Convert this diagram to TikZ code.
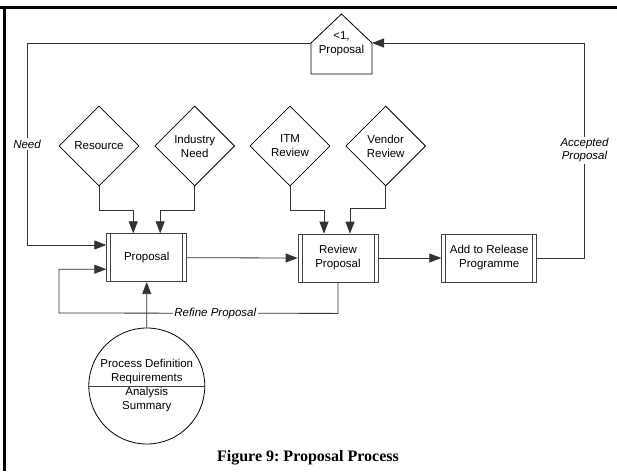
\documentclass[tikz,border=0pt]{standalone}
\usepackage{fontspec}
\setmainfont{Liberation Sans}
\newfontfamily\capfont{Liberation Serif}
\usetikzlibrary{arrows.meta,shapes.geometric}
\tikzset{
  lbl/.style={fill=white,inner sep=1.5pt,align=center,font=\fontsize{11.5}{13}\selectfont\itshape},
  wire/.style={draw=black!80,line width=0.8pt}
}
\begin{document}
\begin{tikzpicture}[x=1pt,y=-1pt,>={Triangle[length=12pt,width=9pt]},
    font=\fontsize{11.5}{14}\selectfont]
  \useasboundingbox (0,0) rectangle (617,471);
  % frame
  \draw[line width=2.7pt] (0,7.5) -- (617,7.5);
  \draw[line width=2.7pt] (4.7,7.5) -- (4.7,471);

  \begin{scope}[every node/.style={rectangle,draw=black!75,line width=0.8pt,
      minimum width=80pt,minimum height=48pt,align=center,
      path picture={\draw[black!75,line width=0.8pt]
        ([xshift=4pt]path picture bounding box.north west) -- ([xshift=4pt]path picture bounding box.south west)
        ([xshift=-4pt]path picture bounding box.north east) -- ([xshift=-4pt]path picture bounding box.south east);}}]
    \node (Prop) at (146.7,257.7) {Proposal};
    \node (Rev) at (338,258) {Review\\Proposal};
    \node[minimum width=95pt] (Rel) at (489.2,258) {Add to Release\\Programme};
  \end{scope}

  \begin{scope}[every node/.style={diamond,draw,line width=0.8pt,aspect=1,
      minimum size=80pt,inner sep=0pt,align=center}]
    \node (Res) at (99,146) {Resource};
    \node (Ind) at (194.7,146) {Industry\\Need};
    \node (ITM) at (290,146) {ITM\\Review};
    \node (Ven) at (385.7,146) {Vendor\\Review};
  \end{scope}

  \node[circle,draw,line width=0.8pt,minimum size=116pt,inner sep=0pt,align=center,
    path picture={\draw[black!75,line width=0.8pt] (path picture bounding box.west) -- (path picture bounding box.east);}]
    (Def) at (146.8,386) {Process Definition\\Requirements\\Analysis\\Summary};

  % gate
  \coordinate (GateL) at (311,43);
  \coordinate (GateR) at (372,43);
  \draw[line width=0.8pt] (GateL) -- (341.5,14) -- (GateR) -- (372,74) -- (311,74) -- cycle;
  \node[align=center] (Gate) at (341.5,44) {<1,\\Proposal};

  \begin{scope}[every path/.style={wire}]
    \draw[->] (GateL) -- (27,43) -- node[lbl]{Need} (27,245) -- (Prop.west |- 0,245);
    \draw[->] (Rel.east) -- (584.5,258) -- node[lbl]{Accepted\\Proposal} (584.5,43) -- (GateR);
    \draw[->] (Res.south) -- ++(0,24) -| ([xshift=-13.5pt]Prop.north);
    \draw[->] (Ind.south) -- ++(0,24) -| ([xshift=13.5pt]Prop.north);
    \draw[->] (ITM.south) -- ++(0,24) -| ([xshift=-14pt]Rev.north);
    \draw[->] (Ven.south) -- ++(0,22) -| ([xshift=12pt]Rev.north);
    \draw[->] (Prop.east) -- (Rev.west);
    \draw[->] (Rev.east) -- (Rel.west);
    \draw[->] (Rev.south) -- ++(0,31) -- node[lbl,pos=0.44]{Refine Proposal} (59,313) |- ([yshift=-11.5pt]Prop.west);
    \draw[->] (Def.north) -- (Prop.south);
  \end{scope}

  \node[font=\capfont\bfseries\fontsize{16}{19}\selectfont\frenchspacing] (Cap) at (308,457.5) {Figure 9: Proposal Process};
\end{tikzpicture}
\end{document}
